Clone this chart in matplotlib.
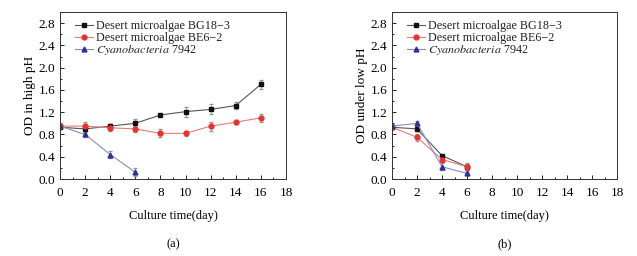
import numpy as np
import matplotlib.pyplot as plt
from matplotlib.ticker import MultipleLocator

plt.rcParams['font.family'] = ['Liberation Serif', 'DejaVu Serif']
plt.rcParams['mathtext.fontset'] = 'stix'

days = [0, 2, 4, 6, 8, 10, 12, 14, 16]
days_short = [0, 2, 4, 6]

# (a) high pH
high_bg = [0.93, 0.90, 0.95, 1.00, 1.15, 1.21, 1.25, 1.32, 1.70]
high_bg_err = [0.04, 0.04, 0.03, 0.07, 0.02, 0.09, 0.09, 0.07, 0.08]
high_be = [0.95, 0.95, 0.92, 0.90, 0.82, 0.82, 0.95, 1.02, 1.10]
high_be_err = [0.05, 0.07, 0.06, 0.05, 0.07, 0.05, 0.08, 0.03, 0.07]
high_cy = [0.95, 0.80, 0.44, 0.12]
high_cy_err = [0.04, 0.04, 0.06, 0.07]

# (b) low pH
low_bg = [0.93, 0.90, 0.42, 0.22]
low_bg_err = [0.04, 0.04, 0.03, 0.05]
low_be = [0.93, 0.75, 0.35, 0.22]
low_be_err = [0.04, 0.06, 0.05, 0.06]
low_cy = [0.95, 1.00, 0.22, 0.10]
low_cy_err = [0.04, 0.05, 0.06, 0.03]

labels = ['Desert microalgae BG18\u22123', 'Desert microalgae BE6\u22122',
          r'$\it{Cyanobacteria}$ 7942']

fig = plt.figure(figsize=(6.37, 2.56), dpi=100)
ax1 = fig.add_axes([60/637, 1-179/256, 226/637, 167/256])
ax2 = fig.add_axes([392/637, 1-179/256, 225/637, 167/256])


def draw(ax, series, ylabel, tag):
    styles = [('s', '#111111', '#555555'), ('o', '#e8322e', '#e87a78'),
              ('^', '#2e3192', '#8a8cc0')]
    handles = []
    for (x, y, e), (m, mc, lc) in zip(series, styles):
        c = ax.errorbar(x, y, yerr=e, marker=m, ms=3.5, color=lc, mfc=mc, mec=mc,
                        lw=0.8, elinewidth=0.6, ecolor='#999999', capsize=1.5)
        handles.append(c.lines[0])
    ax.set_xlim(0, 18)
    ax.set_ylim(0, 3.0)
    ax.set_xticks(range(0, 19, 2))
    ax.set_yticks(np.arange(0, 2.81, 0.4))
    ax.set_yticklabels(['%.1f' % v for v in np.arange(0, 2.81, 0.4)])
    ax.xaxis.set_minor_locator(MultipleLocator(1))
    ax.yaxis.set_minor_locator(MultipleLocator(0.2))
    ax.tick_params(which='both', direction='in', labelsize=9.5, width=0.6,
                   top=False, right=False)
    ax.tick_params(which='major', length=3)
    ax.tick_params(which='minor', length=1.5)
    ax.tick_params(axis='x', pad=6)
    for s in ax.spines.values():
        s.set_linewidth(0.7)
        s.set_color('#333333')
    ax.set_ylabel(ylabel, fontsize=9.5, labelpad=2)
    ax.set_xlabel('Culture time(day)', fontsize=9, labelpad=8)
    ax.text(0.5, -0.39, tag, transform=ax.transAxes, ha='center', va='center',
            fontsize=9)
    leg = ax.legend(handles, labels, loc='upper left', bbox_to_anchor=(0.03, 1.0),
                    frameon=False, fontsize=8.7, handlelength=1.5,
                    handletextpad=0.2, labelspacing=-0.05, borderaxespad=0.3)
    for t in leg.get_texts():
        t.set_color('#222222')


draw(ax1, [
    (days, high_bg, high_bg_err),
    (days, high_be, high_be_err),
    (days_short, high_cy, high_cy_err),
], 'OD in high pH', '(a)')

draw(ax2, [
    (days_short, low_bg, low_bg_err),
    (days_short, low_be, low_be_err),
    (days_short, low_cy, low_cy_err),
], 'OD under low pH', '(b)')

fig.savefig('out.png', dpi=100)
